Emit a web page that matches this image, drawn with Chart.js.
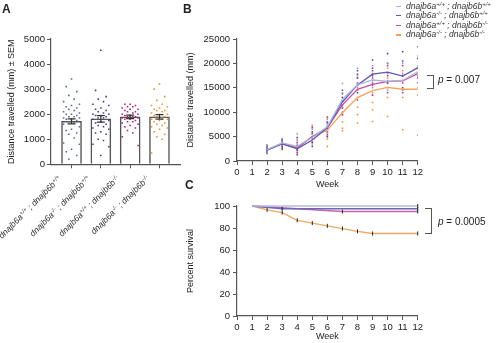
<!DOCTYPE html>
<html>
<head>
<meta charset="utf-8">
<script src="https://cdn.jsdelivr.net/npm/chart.js@4.4.1/dist/chart.umd.min.js"></script>
<style>
  body { margin: 0; background: #fff; font-family: "Liberation Sans", Arial, sans-serif; color: #222; }
  #fig { position: relative; width: 500px; height: 343px; overflow: hidden; }
  #fig canvas { position: absolute; }
  .panel { position: absolute; font-weight: bold; font-size: 12px; line-height: 12px; }
  .geno { position: absolute; font-style: italic; font-size: 8.5px; line-height: 10px; white-space: nowrap; color: #333; }
  .geno sup { font-size: 0.7em; line-height: 0; vertical-align: 0.45em; }
  .dash { display: inline-block; width: 5px; height: 1.2px; vertical-align: middle; margin-right: 5px; }
  .bracket { position: absolute; width: 6px; border: 1.2px solid #555; border-left: none; }
  .pval { position: absolute; font-size: 10px; line-height: 12px; white-space: nowrap; }
</style>
</head>
<body>
<div id="fig">
  <canvas id="chartA" width="190" height="172" style="left:0;top:0"></canvas>
  <canvas id="chartB" width="245" height="191" style="left:180px;top:0"></canvas>
  <canvas id="chartC" width="245" height="153" style="left:180px;top:190px"></canvas>
  <div class="panel" style="left:2px;top:3px">A</div>
  <div class="panel" style="left:183px;top:3px">B</div>
  <div class="panel" style="left:185px;top:179px">C</div>
  <div class="bracket" style="left:427px;top:75px;height:12px"></div>
  <div class="pval" style="left:438px;top:74px"><i>p</i> = 0.007</div>
  <div class="bracket" style="left:425px;top:208px;height:24px"></div>
  <div class="pval" style="left:438px;top:216px"><i>p</i> = 0.0005</div>
</div>
<script>
// genotypes: dnajb6a / dnajb6b alleles
const alleleA = ['+/+', '-/-', '+/+', '-/-'];
const alleleB = ['+/+', '+/+', '-/-', '-/-'];
const lineColors = ['#a7b4dd', '#5f58ad', '#cb4c9f', '#f2a25e'];
const dotColorsA = ['#55679f', '#3e3d8c', '#a8236f', '#e98f3c'];
const dotColorsB = ['#8a9ccf', '#4a4699', '#c13390', '#f08b3b'];

// A: distance travelled per fish, week 2
const meanA = [1710, 1810, 1890, 1890];
const semA = [100, 130, 70, 90];
const fishA = [
  [3400, 3100, 2900, 2750, 2600, 2500, 2400, 2350, 2300, 2250, 2200, 2150, 2100, 2050, 2000, 2000, 1950, 1900, 1900, 1850,
   1850, 1800, 1800, 1750, 1700, 1650, 1600, 1500, 1400, 1350, 1250, 1200, 1050, 850, 800, 600, 500, 350, 200],
  [4550, 2950, 2700, 2600, 2500, 2400, 2350, 2250, 2200, 2150, 2100, 2050, 2000, 2000, 1950, 1950, 1900, 1850, 1850, 1800,
   1750, 1700, 1650, 1600, 1550, 1500, 1450, 1400, 1300, 1250, 1200, 1000, 950, 800, 700, 350],
  [2400, 2400, 2350, 2300, 2300, 2250, 2200, 2200, 2150, 2100, 2100, 2050, 2000, 2000, 1950, 1950, 1900, 1900, 1900, 1850,
   1850, 1800, 1800, 1750, 1700, 1700, 1650, 1600, 1550, 1500, 1450, 1350, 1250, 1100, 750],
  [3200, 3000, 2700, 2550, 2400, 2350, 2300, 2250, 2200, 2150, 2150, 2100, 2050, 2000, 2000, 1950, 1900, 1900, 1850, 1800,
   1800, 1750, 1700, 1650, 1600, 1550, 1500, 1450, 1400, 1300, 1200, 1100, 1000, 450]
];
const jitter = [0, -0.18, 0.18, -0.09, 0.09, -0.27, 0.27];

// B: weekly distance travelled
const weeks = [2, 3, 4, 5, 6, 7, 8, 9, 10, 11, 12];
const meanB = [
  [2300, 3700, 3000, 4800, 7000, 12600, 15600, 16600, 16300, 16500, 18300],
  [2200, 3500, 2500, 4300, 6800, 12100, 15600, 17800, 18200, 17400, 19100],
  [2300, 3600, 2600, 5000, 6800, 11500, 14700, 15700, 16300, 16400, 17900],
  [2300, 3600, 2800, 5000, 6300, 9900, 13000, 14400, 15100, 14700, 14700]
];
const fishB = [
  [[3200, 2700, 2400, 2000, 1700], [4600, 4000, 3600, 3200], [5600, 4500, 3500, 2800], [7300, 6500, 5500, 4500],
   [8500, 7600, 6800, 6000], [15900, 14000, 12500, 11000], [19000, 17500, 16000, 14500], [19500, 17800, 16500, 15000],
   [20000, 18000, 16500, 14500], [20000, 18000, 16500, 14500], [21500, 19500, 18000, 16000]],
  [[3000, 2500, 2100, 1800], [4300, 3500, 3000, 2500], [4800, 3000, 2200, 1300], [6000, 4800, 3800, 3000],
   [8000, 7000, 6000, 5000], [14500, 13000, 11500, 10000], [18500, 17000, 15500, 14000], [20700, 19000, 17500, 16000],
   [22000, 20000, 18000, 16000], [22400, 20500, 17500, 15000], [23400, 21000, 19000, 17000]],
  [[2800, 2400, 2000, 1600], [4200, 3800, 3400, 2800], [3800, 3000, 2400, 1800], [6800, 5600, 4800, 3900],
   [9000, 7800, 6600, 5400], [13800, 12200, 10800, 9500], [17800, 16000, 14500, 12500], [18500, 17000, 15500, 13500],
   [19500, 17500, 16000, 14000], [19500, 17500, 16000, 14000], [21000, 19000, 17500, 16000]],
  [[3300, 2600, 2200, 1900, 1500], [4500, 3900, 3300, 2300], [4200, 3200, 2500, 1600], [7000, 5800, 4500, 3500],
   [8800, 7200, 5800, 4500, 3000], [13000, 11000, 9500, 8000, 6700, 6200], [17000, 15000, 13000, 11000, 9500, 7800],
   [18000, 16500, 14000, 12000, 10500, 8100], [19000, 17000, 15000, 13000, 9100], [18500, 16500, 14500, 13000, 6400],
   [19000, 17000, 15000, 13500, 5300]]
];

// C: survival, points at each death
const survWeeks = [[1, 12], [1, 3, 12], [1, 7, 12], [1, 2, 3, 4, 5, 6, 7, 8, 9, 12]];
const survPct = [[100, 100], [100, 97.5, 97.5], [100, 95, 95], [100, 96.5, 94, 87, 84.5, 82, 79.5, 77, 75, 75]];
const survColors = ['#b3bde1', '#6d67b6', '#c961a8', '#f0a866'];

const genoHtml = i => `dnajb6a<sup>${alleleA[i]}</sup> ; dnajb6b<sup>${alleleB[i]}</sup>`;
const fig = document.getElementById('fig');

// legend for B
alleleA.forEach((a, i) => {
  const d = document.createElement('div');
  d.className = 'geno';
  d.style.left = '396px';
  d.style.top = (0.5 + i * 9.6) + 'px';
  d.innerHTML = `<span class="dash" style="background:${lineColors[i]}"></span>${genoHtml(i)}`;
  fig.appendChild(d);
});

const axisGrid = { drawOnChartArea: false, tickLength: 4, color: '#555' };
const axisBorder = { color: '#555', width: 1.2 };
const tickFont = { size: 9.5 };
const titleFont = { size: 9 };
const plain = v => String(v);
const base = {
  responsive: false,
  animation: false,
  events: [],
  plugins: { legend: { display: false }, tooltip: { enabled: false } }
};

// mean ± SEM whiskers
const semBars = {
  id: 'semBars',
  afterDatasetsDraw(chart) {
    const { ctx, scales: { x, y } } = chart;
    ctx.save();
    ctx.strokeStyle = '#333';
    ctx.lineWidth = 1.2;
    meanA.forEach((m, i) => {
      const px = x.getPixelForValue(i + 1);
      const top = y.getPixelForValue(m + semA[i]);
      const bot = y.getPixelForValue(m - semA[i]);
      ctx.beginPath();
      ctx.moveTo(px, top); ctx.lineTo(px, bot);
      ctx.moveTo(px - 4, top); ctx.lineTo(px + 4, top);
      ctx.moveTo(px - 4, bot); ctx.lineTo(px + 4, bot);
      ctx.stroke();
    });
    ctx.restore();
  }
};

const chartA = new Chart(document.getElementById('chartA'), {
  type: 'scatter',
  data: {
    datasets: [
      {
        type: 'bar',
        data: meanA.map((m, i) => ({ x: i + 1, y: m })),
        backgroundColor: '#fff',
        borderColor: '#555',
        borderWidth: 1.5,
        barThickness: 20,
        order: 2
      },
      ...fishA.map((vals, i) => ({
        data: vals.map((v, k) => ({ x: i + 1 + jitter[k % jitter.length], y: v })),
        pointStyle: 'rect',
        pointRadius: 1.1,
        borderWidth: 0,
        backgroundColor: dotColorsA[i],
        order: 1
      }))
    ]
  },
  plugins: [semBars],
  options: {
    ...base,
    layout: { padding: { top: 39, right: 10, left: 0, bottom: 0 } },
    scales: {
      x: {
        type: 'linear', min: 0.3, max: 4.7, offset: false,
        afterBuildTicks: s => { s.ticks = meanA.map((m, i) => ({ value: i + 1 })); },
        afterFit: s => { s.height = 5; },
        ticks: { display: false },
        grid: { ...axisGrid, offset: false },
        border: axisBorder
      },
      y: {
        min: 0, max: 5000,
        afterFit: s => { s.width = 51; },
        ticks: { stepSize: 1000, font: tickFont, color: '#222', padding: 2, callback: plain },
        title: { display: true, text: 'Distance travelled (mm) ± SEM', font: titleFont, color: '#222', padding: { top: 6 } },
        grid: axisGrid,
        border: axisBorder
      }
    }
  }
});

// rotated genotype labels under A
meanA.forEach((m, i) => {
  const px = chartA.scales.x.getPixelForValue(i + 1) - 12;
  const d = document.createElement('div');
  d.className = 'geno';
  d.style.right = (500 - px) + 'px';
  d.style.top = '172px';
  d.style.transformOrigin = '100% 50%';
  d.style.transform = 'rotate(-45deg)';
  d.innerHTML = genoHtml(i);
  fig.appendChild(d);
});

const weekAxis = (afterFit) => ({
  type: 'linear', min: 0, max: 12,
  afterFit,
  ticks: { stepSize: 1, font: tickFont, color: '#222', padding: 2, maxRotation: 0, autoSkip: false, callback: plain },
  title: { display: true, text: 'Week', font: titleFont, color: '#222', padding: { top: 0, bottom: 1 } },
  grid: axisGrid,
  border: axisBorder
});

new Chart(document.getElementById('chartB'), {
  type: 'scatter',
  data: {
    datasets: [
      ...fishB.map((perWeek, g) => ({
        data: perWeek.flatMap((vals, w) => vals.map(v => ({ x: weeks[w], y: v }))),
        pointStyle: 'rect',
        pointRadius: 1.1,
        borderWidth: 0,
        backgroundColor: dotColorsB[g],
        order: 2
      })),
      ...meanB.map((vals, g) => ({
        type: 'line',
        data: vals.map((v, w) => ({ x: weeks[w], y: v })),
        borderColor: lineColors[g],
        borderWidth: 1.3,
        pointRadius: 0,
        tension: 0,
        order: 1
      }))
    ]
  },
  options: {
    ...base,
    layout: { padding: { top: 39, right: 6, left: 0, bottom: 0 } },
    scales: {
      x: weekAxis(s => { s.height = 30; }),
      y: {
        min: 0, max: 25000,
        afterFit: s => { s.width = 57; },
        ticks: { stepSize: 5000, font: tickFont, color: '#222', padding: 3, callback: plain },
        title: { display: true, text: 'Distance travelled (mm)', font: titleFont, color: '#222', padding: { top: 5 } },
        grid: axisGrid,
        border: axisBorder
      }
    }
  }
});

new Chart(document.getElementById('chartC'), {
  type: 'scatter',
  data: {
    datasets: survPct.map((vals, g) => ({
      type: 'line',
      data: vals.map((v, k) => ({ x: survWeeks[g][k], y: v })),
      borderColor: survColors[g],
      borderWidth: 1.3,
      tension: 0,
      clip: false,
      pointStyle: 'line',
      rotation: 90,
      pointRadius: c => (c.dataIndex === 0 ? 0 : 2),
      pointBorderColor: '#222',
      pointBorderWidth: 1
    }))
  },
  options: {
    ...base,
    layout: { padding: { top: 16, right: 6, left: 0, bottom: 0 } },
    scales: {
      x: weekAxis(s => { s.height = 27; }),
      y: {
        min: 0, max: 100,
        afterFit: s => { s.width = 57; },
        ticks: { stepSize: 20, font: tickFont, color: '#222', padding: 3, callback: plain },
        title: { display: true, text: 'Percent survival', font: titleFont, color: '#222', padding: { top: 5 } },
        grid: axisGrid,
        border: axisBorder
      }
    }
  }
});
</script>
</body>
</html>
